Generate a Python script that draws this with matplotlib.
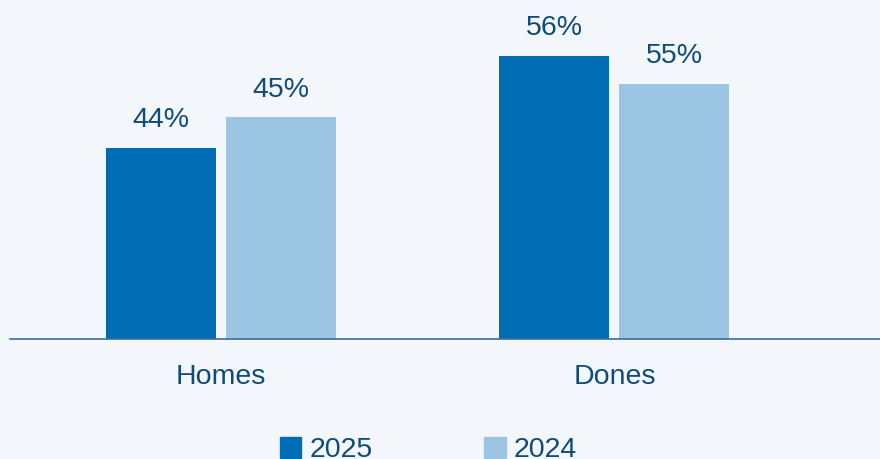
import matplotlib.pyplot as plt
from matplotlib.patches import Patch
import numpy as np

# data (bar heights, labels as printed)
categories = ["Homes", "Dones"]
series_names = ["2025", "2024"]
heights_2025 = [37.8, 56.0]
heights_2024 = [43.9, 50.5]
labels_2025 = ["44%", "56%"]
labels_2024 = ["45%", "55%"]

bg = "#f3f7fb"
dark = "#006cb4"
light = "#9cc4e3"
text_col = "#0f4c7a"
line_col = "#3a6e9b"

plt.rcParams["font.family"] = ["Liberation Sans", "DejaVu Sans"]

fig = plt.figure(figsize=(8.8, 4.59), dpi=100, facecolor=bg)
ax = fig.add_axes([10 / 880, 120 / 459, 870 / 880, 339 / 459])
ax.set_facecolor(bg)

x = np.arange(len(categories))
w = 0.2795
off = 0.1525

b1 = ax.bar(x - off, heights_2025, w, color=dark)
b2 = ax.bar(x + off, heights_2024, w, color=light)

for bars, labs in [(b1, labels_2025), (b2, labels_2024)]:
    for bar, lab in zip(bars, labs):
        ax.annotate(lab, (bar.get_x() + bar.get_width() / 2, bar.get_height()),
                    xytext=(0, 10.5), textcoords="offset points",
                    ha="center", va="bottom", fontsize=20.5, color=text_col)

ax.set_xlim(-0.536, 1.675)
ax.set_ylim(0, 67.1)
ax.set_xticks(x)
ax.set_xticklabels(categories, fontsize=20.5, color=text_col)
ax.tick_params(axis="x", length=0, pad=18)
ax.set_yticks([])

for s in ["top", "right", "left"]:
    ax.spines[s].set_visible(False)
ax.spines["bottom"].set_color(line_col)
ax.spines["bottom"].set_linewidth(1.2)

handles = [Patch(color=dark, label=series_names[0]),
           Patch(color=light, label=series_names[1])]
fig.legend(handles=handles, loc="upper left", bbox_to_anchor=(280 / 880, 1 - 437 / 459),
           ncol=2, frameon=False, fontsize=20.5, labelcolor=text_col,
           handlelength=0.75, handleheight=0.75, handletextpad=0.3,
           columnspacing=3.9, borderpad=0, borderaxespad=0)

fig.savefig("out.png", dpi=100, facecolor=bg)
